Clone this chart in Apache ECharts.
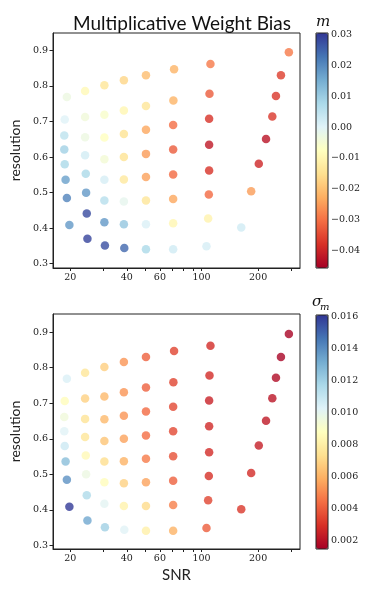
<!DOCTYPE html>
<html>
<head>
<meta charset="utf-8">
<script src="https://cdn.jsdelivr.net/npm/echarts@6/dist/echarts.min.js"></script>
<style>
  html, body { margin: 0; padding: 0; background: #fff; }
  #main { width: 374px; height: 598px; }
</style>
</head>
<body>
<div id="main"></div>
<script>
// one entry per bin, column by column (low SNR -> high SNR)
var snr = [
  19.2, 18.7, 18.6, 18.6, 18.7, 18.9, 19.2, 19.8,
  24.0, 24.0, 24.0, 24.0, 24.2, 24.3, 24.5, 24.7,
  30.4, 30.4, 30.4, 30.4, 30.4, 30.4, 30.4, 30.6,
  38.6, 38.6, 38.6, 38.6, 38.6, 38.6, 38.6, 38.8,
  50.6, 50.6, 50.6, 50.6, 50.6, 50.6, 50.6, 50.6,
  71.4, 70.8, 70.6, 70.6, 70.6, 70.6, 70.6, 70.6,
  111.5, 110.2, 109.7, 109.7, 109.7, 109.3, 108.4, 106.2,
  291.4, 264.4, 248.8, 237.9, 220.3, 201.6, 183.6, 162.6
];
var resolution = [
  0.769, 0.706, 0.661, 0.621, 0.580, 0.536, 0.485, 0.409,
  0.786, 0.713, 0.656, 0.605, 0.553, 0.500, 0.441, 0.370,
  0.802, 0.719, 0.655, 0.594, 0.536, 0.478, 0.417, 0.351,
  0.816, 0.731, 0.665, 0.600, 0.537, 0.475, 0.411, 0.344,
  0.830, 0.744, 0.677, 0.609, 0.544, 0.478, 0.411, 0.341,
  0.847, 0.759, 0.690, 0.621, 0.551, 0.482, 0.414, 0.341,
  0.862, 0.778, 0.708, 0.635, 0.562, 0.495, 0.427, 0.349,
  0.895, 0.830, 0.772, 0.714, 0.651, 0.581, 0.504, 0.402
];
var mBias = [
  -0.003, 0.000, 0.005, 0.009, 0.0076, 0.017, 0.021, 0.018,
  -0.009, -0.004, -0.003, 0.002, 0.0076, 0.018, 0.028, 0.029,
  -0.0137, -0.006, -0.0076, -0.0046, 0.0015, 0.006, 0.018, 0.0275,
  -0.0167, -0.0099, -0.0145, -0.0145, -0.013, -0.0015, 0.011, 0.0244,
  -0.0206, -0.0137, -0.0236, -0.0251, -0.0244, -0.0137, 0.0008, 0.0076,
  -0.022, -0.022, -0.0305, -0.0327, -0.031, -0.0236, -0.0099, 0.0023,
  -0.029, -0.0327, -0.038, -0.0419, -0.038, -0.031, -0.0107, 0.0015,
  -0.029, -0.0366, -0.0373, -0.0373, -0.0427, -0.0396, -0.025, 0.0023
];
var sigmaM = [
  0.0104, 0.0087, 0.0095, 0.0102, 0.0108, 0.0126, 0.0139, 0.0160,
  0.0076, 0.0069, 0.0075, 0.0076, 0.0085, 0.0097, 0.0116, 0.0133,
  0.0068, 0.0062, 0.0062, 0.0065, 0.0073, 0.0087, 0.0101, 0.0120,
  0.0053, 0.0053, 0.0053, 0.0056, 0.0060, 0.0069, 0.0082, 0.0102,
  0.0041, 0.0041, 0.0043, 0.0044, 0.0047, 0.0056, 0.0072, 0.0081,
  0.0034, 0.0034, 0.0035, 0.0035, 0.0037, 0.0041, 0.0048, 0.0060,
  0.0028, 0.0028, 0.0025, 0.0027, 0.0028, 0.0029, 0.0034, 0.0040,
  0.0016, 0.0016, 0.0018, 0.0021, 0.0022, 0.0024, 0.0028, 0.0031
];

var snrTicks = [20, 30, 40, 50, 60, 70, 80, 90, 100, 200, 300];
var snrLabels = [20, 40, 60, 100, 200];
var resTicks = [0.3, 0.4, 0.5, 0.6, 0.7, 0.8, 0.9];
var mTicks = [-0.04, -0.03, -0.02, -0.01, 0.0, 0.01, 0.02, 0.03];
var sigmaTicks = [0.002, 0.004, 0.006, 0.008, 0.010, 0.012, 0.014, 0.016];

var rdylbu = ['#a50026', '#d73027', '#f46d43', '#fdae61', '#fee090', '#ffffbf',
              '#e0f3f8', '#abd9e9', '#74add1', '#4575b4', '#313695'];

var serif = '"DejaVu Serif", serif';
var sans = 'Lato';
var ink = '#222';

function minus(s) { return s.replace('-', '\u2212'); }

function snrAxis(grid, withName) {
  return {
    gridIndex: grid, type: 'log', logBase: 10, min: 16.2, max: 334,
    name: withName ? 'SNR' : '', nameLocation: 'middle', nameGap: 19,
    nameTextStyle: { fontFamily: sans, fontSize: 15, color: ink },
    axisLine: { show: true, lineStyle: { color: ink, width: 1 } },
    axisTick: { show: true, customValues: snrTicks, length: 3, lineStyle: { color: ink } },
    axisLabel: { customValues: snrLabels, fontFamily: serif, fontSize: 9.5, color: ink, margin: 5 },
    splitLine: { show: false }, minorTick: { show: false }
  };
}
function resAxis(grid, min, max) {
  return {
    gridIndex: grid, type: 'value', min: min, max: max,
    name: 'resolution', nameLocation: 'middle', nameGap: 25, nameRotate: 90,
    nameTextStyle: { fontFamily: sans, fontSize: 14, color: ink },
    axisLine: { show: true, lineStyle: { color: ink, width: 1 } },
    axisTick: { show: true, customValues: resTicks, length: 3.5, lineStyle: { color: ink } },
    axisLabel: { customValues: resTicks, fontFamily: serif, fontSize: 9.5, color: ink, margin: 5,
                 formatter: function (v) { return v.toFixed(1); } },
    splitLine: { show: false }
  };
}
function barAxis(grid, min, max, ticks, digits) {
  return {
    gridIndex: grid, type: 'value', min: min, max: max, position: 'right',
    axisLine: { show: false },
    axisTick: { show: true, customValues: ticks, length: 3.5, lineStyle: { color: ink } },
    axisLabel: { customValues: ticks, fontFamily: serif, fontSize: 9.5, color: ink, margin: 3,
                 formatter: function (v) { return minus(v.toFixed(digits)); } },
    splitLine: { show: false }
  };
}

var frame = { show: true, borderColor: ink, borderWidth: 1, backgroundColor: 'transparent' };
var italic = { fontFamily: serif, fontStyle: 'italic', fontWeight: 'normal', color: '#111' };

var option = {
  backgroundColor: '#fff',
  animation: false,
  title: [
    { text: 'Multiplicative Weight Bias', left: 68, top: 9,
      textStyle: { fontFamily: sans, fontSize: 19, fontWeight: 'normal', color: '#111' } },
    { text: 'm', left: 316, top: 15, padding: 0,
      textStyle: Object.assign({ fontSize: 15 }, italic) },
    { text: '\u03c3', left: 312, top: 295, padding: 0,
      textStyle: Object.assign({ fontSize: 15 }, italic) },
    { text: 'm', left: 320, top: 302, padding: 0,
      textStyle: Object.assign({ fontSize: 10 }, italic) }
  ],
  grid: [
    Object.assign({ left: 51, top: 33, width: 249, height: 235, z: 5 }, frame),
    Object.assign({ left: 51, top: 314, width: 249, height: 235, z: 5 }, frame),
    Object.assign({ left: 316, top: 33, width: 12, height: 235, z: 10 }, frame),
    Object.assign({ left: 316, top: 315, width: 12, height: 234, z: 10 }, frame)
  ],
  xAxis: [
    snrAxis(0, false),
    snrAxis(1, true),
    { gridIndex: 2, type: 'value', show: false },
    { gridIndex: 3, type: 'value', show: false }
  ],
  yAxis: [
    resAxis(0, 0.288, 0.949),
    resAxis(1, 0.29, 0.951),
    barAxis(2, -0.0457, 0.0305, mTicks, 2),
    barAxis(3, 0.00148, 0.0161, sigmaTicks, 3)
  ],
  visualMap: [
    { type: 'continuous', seriesIndex: 0, dimension: 2, min: -0.0457, max: 0.0305,
      inRange: { color: rdylbu }, left: 316, top: 33, itemWidth: 12, itemHeight: 235,
      padding: 0, calculable: false, hoverLink: false, showLabel: false },
    { type: 'continuous', seriesIndex: 1, dimension: 2, min: 0.00148, max: 0.0161,
      inRange: { color: rdylbu }, left: 316, top: 315, itemWidth: 12, itemHeight: 234,
      padding: 0, calculable: false, hoverLink: false, showLabel: false }
  ],
  series: [
    { type: 'scatter', xAxisIndex: 0, yAxisIndex: 0, symbolSize: 8.5,
      data: snr.map(function (s, i) { return [s, resolution[i], mBias[i]]; }) },
    { type: 'scatter', xAxisIndex: 1, yAxisIndex: 1, symbolSize: 8.5,
      data: snr.map(function (s, i) { return [s, resolution[i], sigmaM[i]]; }) }
  ]
};

var chart = echarts.init(document.getElementById('main'), null, { renderer: 'canvas' });
chart.setOption(option);
</script>
</body>
</html>
